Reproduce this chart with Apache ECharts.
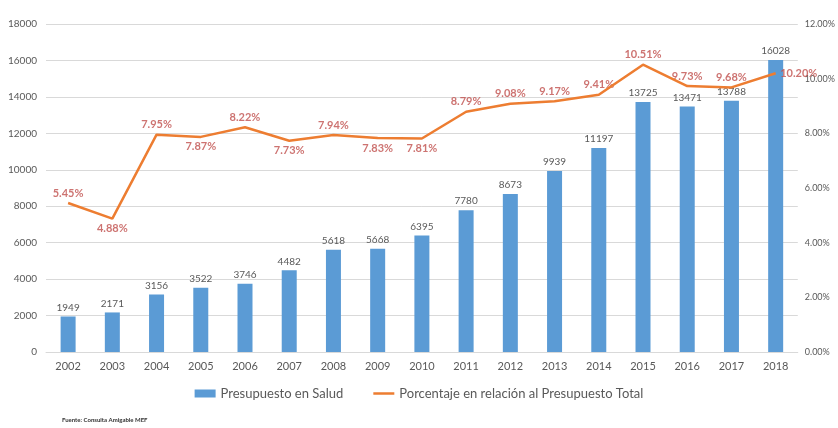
<!DOCTYPE html>
<html><head><meta charset="utf-8">
<script src="https://cdn.jsdelivr.net/npm/echarts@6/dist/echarts.min.js"></script>
<style>html,body{margin:0;padding:0;background:#fff}#c{width:838px;height:428px}</style>
</head><body><div id="c"></div>
<script>
const years = ['2002','2003','2004','2005','2006','2007','2008','2009','2010','2011','2012','2013','2014','2015','2016','2017','2018'];
const budget = [1949,2171,3156,3522,3746,4482,5618,5668,6395,7780,8673,9939,11197,13725,13471,13788,16028];
const percent = [5.45,4.88,7.95,7.87,8.22,7.73,7.94,7.83,7.81,8.79,9.08,9.17,9.41,10.51,9.73,9.68,10.20];
const labelPos = ['top','bottom','top','bottom','top','bottom','top','bottom','bottom','top','top','top','top','top','top','top','right'];
const seriesNames = ['Presupuesto en Salud','Porcentaje en relación al Presupuesto Total'];
const sourceNote = 'Fuente: Consulta Amigable MEF';

const font = 'Lato, "Open Sans", sans-serif';
const chart = echarts.init(document.getElementById('c'));
chart.setOption({
  animation:false,
  textStyle:{fontFamily:font},
  grid:{left:46,right:37,top:24,bottom:76},
  legend:{
    top:382,left:'center',itemGap:30,itemWidth:21,itemHeight:8,
    textStyle:{fontSize:13,color:'#595959',fontFamily:font},
    data:[{name:seriesNames[0],icon:'rect'},{name:seriesNames[1],icon:'path://M0,0H21V2.5H0Z'}]
  },
  graphic:[{type:'text',left:62,top:417,style:{text:sourceNote,fontSize:6,fontWeight:'bold',fill:'#333',fontFamily:font}}],
  xAxis:{
    type:'category',data:years,
    axisLine:{lineStyle:{color:'#d9d9d9'}},axisTick:{show:false},
    axisLabel:{color:'#595959',fontSize:11,margin:9,fontFamily:font}
  },
  yAxis:[{
    type:'value',min:0,max:18000,interval:2000,
    axisLine:{show:false},axisTick:{show:false},
    splitLine:{lineStyle:{color:'#d9d9d9'}},
    axisLabel:{color:'#595959',fontSize:10,margin:9,fontFamily:font,formatter:v=>String(v)}
  },{
    type:'value',min:0,max:12,interval:2,
    axisLine:{show:false},axisTick:{show:false},splitLine:{show:false},
    axisLabel:{color:'#595959',fontSize:9,margin:7,fontFamily:font,formatter:v=>v.toFixed(2)+'%'}
  }],
  series:[{
    name:seriesNames[0],type:'bar',data:budget,barWidth:15,
    itemStyle:{color:'#5B9BD5'},
    label:{show:true,position:'top',color:'#595959',fontSize:10,distance:4,fontFamily:font}
  },{
    name:seriesNames[1],type:'line',yAxisIndex:1,symbol:'none',data:percent,
    lineStyle:{color:'#ED7D31',width:2.5},itemStyle:{color:'#ED7D31'}
  },{
    name:'labels',type:'scatter',yAxisIndex:1,symbolSize:1,silent:true,
    itemStyle:{color:'rgba(0,0,0,0)'},
    data:percent.map((v,i)=>({value:[i,v],label:{position:labelPos[i]}})),
    label:{show:true,color:'#C0504D',fontSize:11,fontWeight:'bold',distance:4,fontFamily:font,formatter:p=>p.value[1].toFixed(2)+'%'}
  }]
});
</script></body></html>
